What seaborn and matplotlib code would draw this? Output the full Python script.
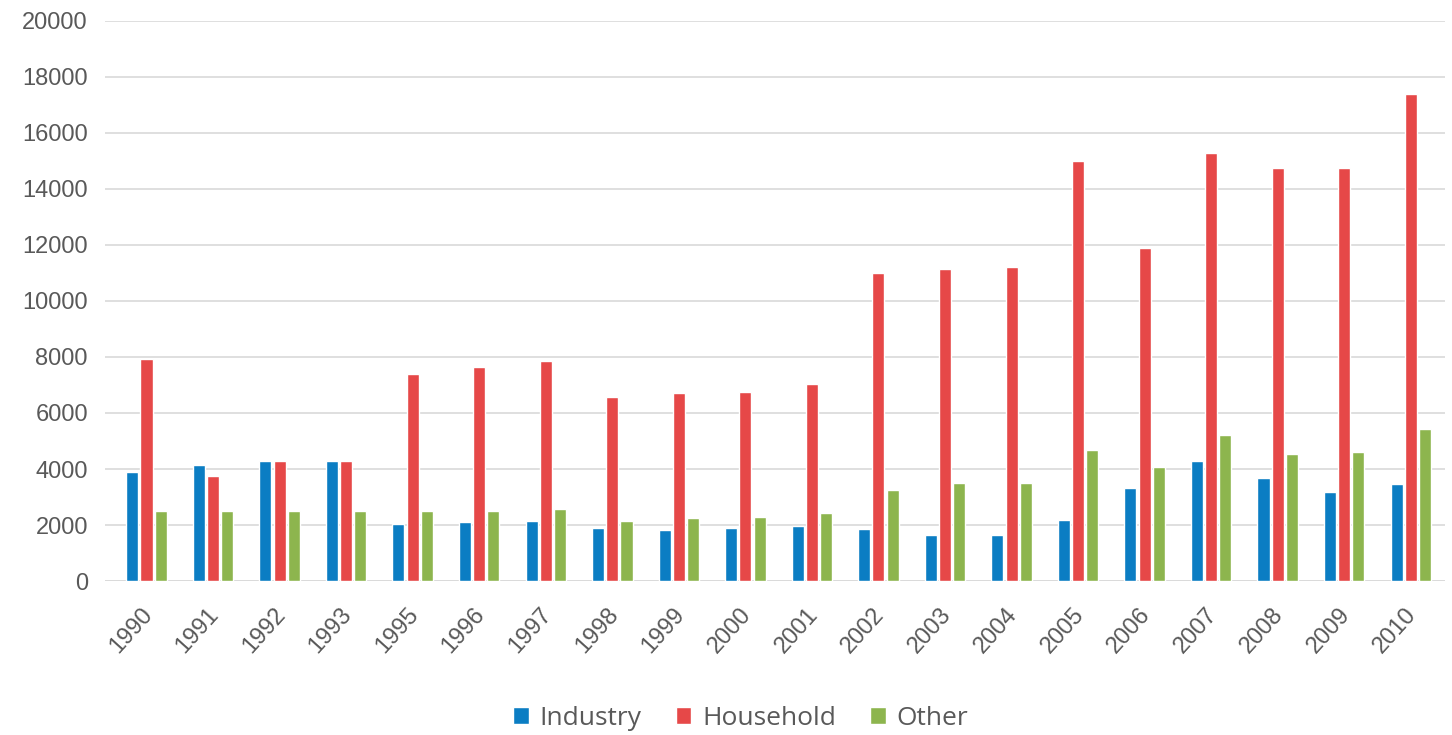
import matplotlib
matplotlib.use("Agg")
import matplotlib.pyplot as plt
import matplotlib.transforms as mtransforms
import seaborn as sns
import pandas as pd

years = ["1990", "1991", "1992", "1993", "1995", "1996", "1997", "1998", "1999", "2000",
         "2001", "2002", "2003", "2004", "2005", "2006", "2007", "2008", "2009", "2010"]
industry = [3880, 4130, 4270, 4270, 2040, 2090, 2140, 1880, 1830, 1880,
            1980, 1850, 1640, 1640, 2180, 3310, 4270, 3670, 3190, 3450]
household = [7930, 3750, 4270, 4270, 7400, 7660, 7870, 6570, 6700, 6740,
             7040, 11000, 11150, 11230, 15010, 11900, 15300, 14740, 14740, 17390]
other = [2510, 2500, 2500, 2500, 2510, 2510, 2570, 2160, 2240, 2300,
         2440, 3250, 3510, 3510, 4680, 4060, 5230, 4540, 4610, 5420]
series = ["Industry", "Household", "Other"]
colors = ["#0B7DC3", "#E64848", "#8DB54E"]

df = pd.DataFrame({
    "year": years * 3,
    "value": industry + household + other,
    "series": [s for s in series for _ in years],
})

sns.set_theme(style="white")
plt.rcParams["font.family"] = ["Liberation Sans", "DejaVu Sans"]

fig = plt.figure(figsize=(14.52, 7.35), dpi=100)
ax = fig.add_axes([0.072, 0.2095, 0.923, 0.762])

sns.barplot(data=df, x="year", y="value", hue="series", palette=colors,
            order=years, hue_order=series, width=0.64, gap=0.15,
            saturation=1, ax=ax, legend=True)

ax.set_ylim(0, 20000)
ax.set_xlim(-0.63, 19.51)
ax.set_yticks(range(0, 20001, 2000))
ax.yaxis.grid(True, color="#D9D9D9", linewidth=1.2)
ax.set_axisbelow(True)
for s in ax.spines.values():
    s.set_visible(False)
ax.axhline(0, color="#D9D9D9", linewidth=1.2, zorder=0)
ax.set_xlabel("")
ax.set_ylabel("")
ax.tick_params(axis="y", labelsize=17, labelcolor="#595959", length=0, pad=12)
ax.tick_params(axis="x", labelsize=17, labelcolor="#595959", length=0, pad=16)
shift = mtransforms.ScaledTranslation(-6 / 100, 0, fig.dpi_scale_trans)
for lbl in ax.get_xticklabels():
    lbl.set_rotation(48)
    lbl.set_ha("right")
    lbl.set_rotation_mode("anchor")
    lbl.set_transform(lbl.get_transform() + shift)

handles, labels = ax.get_legend_handles_labels()
ax.get_legend().remove()
leg = fig.legend(handles, labels, loc="center", bbox_to_anchor=(0.51, 0.023),
                 ncol=3, frameon=False, handlelength=0.6, handleheight=0.6,
                 handletextpad=0.4, columnspacing=1.3,
                 prop={"family": ["Open Sans", "DejaVu Sans"], "size": 19})
for t in leg.get_texts():
    t.set_color("#595959")

fig.savefig("out.png", dpi=100)
